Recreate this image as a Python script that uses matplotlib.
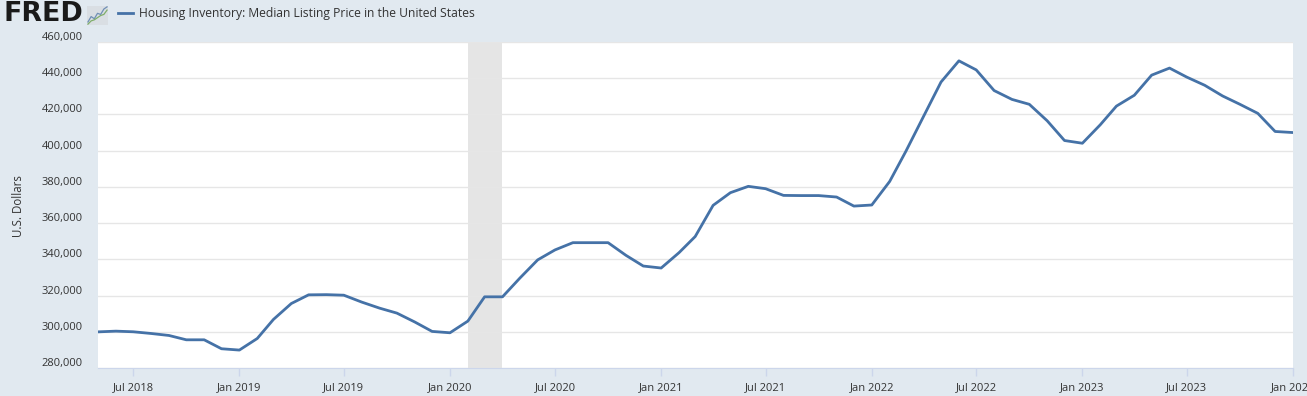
import numpy as np
import pandas as pd
import matplotlib
matplotlib.use("Agg")
import matplotlib.pyplot as plt
import matplotlib.dates as mdates
import matplotlib.transforms as mtransforms
from matplotlib.ticker import FuncFormatter

plt.rcParams["font.family"] = ["Open Sans", "DejaVu Sans"]

# ---- data ---------------------------------------------------------------
dates = pd.date_range("2018-05-01", "2024-01-01", freq="MS")
prices = [
    299950, 300350, 300000, 299060, 297960, 295570, 295570, 290630,  # 2018 May-Dec
    289900, 296300, 306800, 315600, 320400, 320500, 320200, 316400,  # 2019 Jan-Aug
    313050, 310300, 305400, 300200,                                  # 2019 Sep-Dec
    299450, 305900, 319300, 319300, 329600, 339700, 345200, 349200,  # 2020 Jan-Aug
    349200, 349200, 342200, 336300,                                  # 2020 Sep-Dec
    335200, 343700, 352600, 369800, 376800, 380300, 379000, 375300,  # 2021 Jan-Aug
    375200, 375200, 374400, 369400,                                  # 2021 Sep-Dec
    370000, 383000, 399600, 419100, 437900, 449600, 444600, 433200,  # 2022 Jan-Aug
    428300, 425600, 416500, 405600,                                  # 2022 Sep-Dec
    404100, 414300, 424600, 430600, 441700, 445600, 440600, 436100,  # 2023 Jan-Aug
    430200, 425600, 420600, 410600,                                  # 2023 Sep-Dec
    410000,                                                          # 2024 Jan
]
recession_start = pd.Timestamp("2020-02-01")
recession_end = pd.Timestamp("2020-04-01")

series_name = "Housing Inventory: Median Listing Price in the United States"
y_label = "U.S. Dollars"
yticks = np.arange(280000, 460001, 20000)
xticks = pd.date_range("2018-07-01", "2024-01-01", freq="6MS")

# FRED logo icon squiggles
icon_x = [0, 1, 2, 3, 4, 5, 6]
icon_blue = [0.2, 0.45, 0.35, 0.6, 0.55, 0.8, 0.9]
icon_green = [0.1, 0.25, 0.3, 0.4, 0.5, 0.55, 0.75]

BG = "#e1e9f0"
LINE = "#4572a7"
TXT = "#333333"

fig = plt.figure(figsize=(13.07, 3.96), dpi=100, facecolor=BG)
ax = fig.add_axes([98 / 1307, 1 - 368 / 396, (1293 - 98) / 1307, (368 - 42) / 396])
ax.set_facecolor("white")

ax.axvspan(recession_start, recession_end, color="#e5e5e5", lw=0, zorder=1)
ax.plot(dates, prices, color=LINE, lw=2, zorder=3)

ax.set_xlim(dates[0], dates[-1])
ax.set_ylim(280000, 460000)
ax.set_yticks(yticks)
ax.yaxis.set_major_formatter(FuncFormatter(lambda v, _: f"{int(v):,}"))
ax.set_xticks(xticks)
ax.xaxis.set_major_formatter(mdates.DateFormatter("%b %Y"))

ax.grid(axis="y", color="#e6e6e6", lw=1, zorder=0)
for s in ("top", "right", "left"):
    ax.spines[s].set_visible(False)
ax.spines["bottom"].set_color("#ccd6eb")
ax.tick_params(axis="y", length=0, pad=11, labelsize=8, labelcolor=TXT)
ax.tick_params(axis="x", length=6, width=1, color="#ccd6eb", pad=4,
               labelsize=8, labelcolor=TXT)

# Highcharts-style: y labels sit a little above their grid lines
off = mtransforms.ScaledTranslation(0, 6 / 100, fig.dpi_scale_trans)
for lab in ax.get_yticklabels():
    lab.set_transform(lab.get_transform() + off)

fig.text(18 / 1307, 1 - 206 / 396, y_label, rotation=90, ha="center", va="center",
         fontsize=8.3, color=TXT)

# ---- header: FRED logo + legend ----------------------------------------
fig.text(4 / 1307, 1 - 14 / 396, "FRED", fontsize=19.4, fontweight="bold",
         family="DejaVu Sans", color="#1a1a1a", ha="left", va="center")
iax = fig.add_axes([87 / 1307, 1 - 25 / 396, 21 / 1307, 19 / 396])
iax.set_facecolor("#d9dee3")
iax.plot(icon_x, icon_blue, color="#6f8fb5", lw=0.9)
iax.plot(icon_x, icon_green, color="#7fae6a", lw=0.9)
iax.set_xticks([])
iax.set_yticks([])
for s in iax.spines.values():
    s.set_visible(False)

fig.add_artist(plt.Line2D([118 / 1307, 133 / 1307], [1 - 13 / 396, 1 - 13 / 396],
                          color=LINE, lw=2))
fig.text(139 / 1307, 1 - 13 / 396, series_name, fontsize=8.7, color=TXT,
         ha="left", va="center")

fig.savefig("out.png", dpi=100, facecolor=BG)
